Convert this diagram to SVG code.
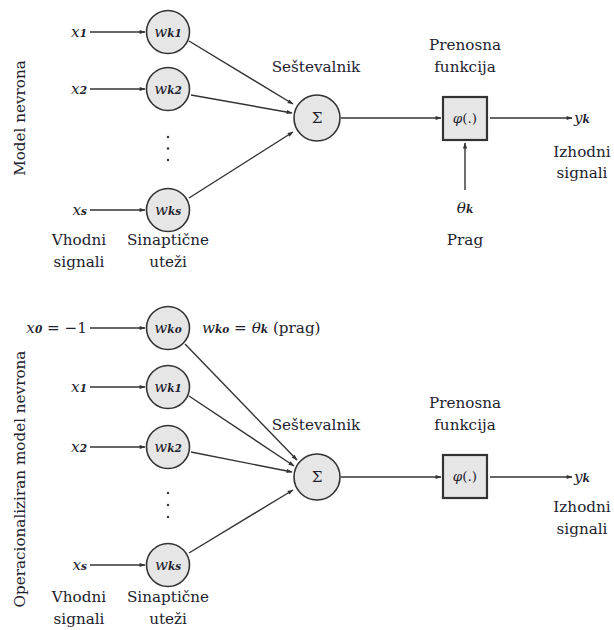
<svg xmlns="http://www.w3.org/2000/svg" width="614" height="630" viewBox="0 0 614 630">
<style>
text{font-family:"DejaVu Serif","Liberation Serif",serif;font-size:15.2px;fill:#22222e}
.m{font-style:italic}
.s{font-size:10.5px;font-weight:bold;font-style:italic}
.c{text-anchor:middle}
.e{text-anchor:end}
.node{fill:#e6e6e6;stroke:#333;stroke-width:1.6}
.box{fill:#e6e6e6;stroke:#333;stroke-width:2.2}
.ln{stroke:#333;stroke-width:1.4;fill:none;marker-end:url(#ah)}
.dot{fill:#333}
</style>
<defs>
<marker id="ah" viewBox="0 0 10 10" refX="9" refY="5" markerWidth="7" markerHeight="6" markerUnits="userSpaceOnUse" orient="auto">
<path d="M0,1.5 L10,5 L0,8.5 z" fill="#333"/>
</marker>
</defs>
<g id="connectors">
<line class="ln" x1="90" y1="32" x2="145" y2="32"/>
<line class="ln" x1="90" y1="89" x2="145" y2="89"/>
<line class="ln" x1="90" y1="210" x2="145" y2="210"/>
<line class="ln" x1="189" y1="41" x2="293" y2="104"/>
<line class="ln" x1="191" y1="95" x2="292" y2="113"/>
<line class="ln" x1="189" y1="198" x2="293" y2="132"/>
<line class="ln" x1="341" y1="118" x2="441" y2="118"/>
<line class="ln" x1="490" y1="118" x2="572" y2="118"/>
<line class="ln" x1="465" y1="190" x2="465" y2="143"/>
<line class="ln" x1="90" y1="328" x2="145" y2="328"/>
<line class="ln" x1="90" y1="387" x2="145" y2="387"/>
<line class="ln" x1="90" y1="447" x2="145" y2="447"/>
<line class="ln" x1="90" y1="565" x2="145" y2="565"/>
<line class="ln" x1="185" y1="344" x2="297" y2="460"/>
<line class="ln" x1="189" y1="396" x2="294" y2="466"/>
<line class="ln" x1="191" y1="452" x2="292" y2="472"/>
<line class="ln" x1="189" y1="553" x2="293" y2="490"/>
<line class="ln" x1="341" y1="477" x2="441" y2="477"/>
<line class="ln" x1="490" y1="477" x2="572" y2="477"/>
</g>
<g id="top-labels">
<text x="20" y="118" class="c" transform="rotate(-90 20 118)" dy="5">Model nevrona</text>
<text x="87" y="37" class="e"><tspan class="m">x</tspan><tspan class="s">1</tspan></text>
<text x="87" y="94" class="e"><tspan class="m">x</tspan><tspan class="s">2</tspan></text>
<text x="87" y="215" class="e"><tspan class="m">x</tspan><tspan class="s">s</tspan></text>
<circle class="dot" cx="168" cy="137" r="1.2"/>
<circle class="dot" cx="168" cy="148.5" r="1.2"/>
<circle class="dot" cx="168" cy="160" r="1.2"/>
<text x="79" y="245" class="c">Vhodni</text>
<text x="79" y="267" class="c">signali</text>
<text x="168" y="245" class="c">Sinaptične</text>
<text x="168" y="267" class="c">uteži</text>
<text x="316" y="72" class="c">Seštevalnik</text>
<text x="465" y="50" class="c">Prenosna</text>
<text x="465" y="72" class="c">funkcija</text>
<text x="574" y="123"><tspan class="m">y</tspan><tspan class="s">k</tspan></text>
<text x="582" y="157" class="c">Izhodni</text>
<text x="582" y="178" class="c">signali</text>
<text x="465" y="213" class="c"><tspan class="m">θ</tspan><tspan class="s">k</tspan></text>
<text x="465" y="245" class="c">Prag</text>
</g>
<g id="wk1"><circle class="node" cx="168" cy="32" r="21.5"/><text x="168" y="37" class="c"><tspan class="m">w</tspan><tspan class="s">k1</tspan></text></g>
<g id="wk2"><circle class="node" cx="168" cy="89" r="21.5"/><text x="168" y="94" class="c"><tspan class="m">w</tspan><tspan class="s">k2</tspan></text></g>
<g id="wks"><circle class="node" cx="168" cy="210" r="21.5"/><text x="168" y="215" class="c"><tspan class="m">w</tspan><tspan class="s">ks</tspan></text></g>
<g id="sum1"><circle class="node" cx="317" cy="118" r="23"/><text x="317" y="123" class="c">Σ</text></g>
<g id="phi1"><rect class="box" x="443" y="97" width="44" height="43"/><text x="465" y="123" class="c" style="font-size:13.5px"><tspan class="m">φ</tspan>(.)</text></g>
<g id="bottom-labels">
<text x="20" y="479" class="c" transform="rotate(-90 20 479)" dy="5">Operacionaliziran model nevrona</text>
<text x="87" y="333" class="e"><tspan class="m">x</tspan><tspan class="s">0</tspan><tspan> = −1</tspan></text>
<text x="87" y="392" class="e"><tspan class="m">x</tspan><tspan class="s">1</tspan></text>
<text x="87" y="452" class="e"><tspan class="m">x</tspan><tspan class="s">2</tspan></text>
<text x="87" y="570" class="e"><tspan class="m">x</tspan><tspan class="s">s</tspan></text>
<circle class="dot" cx="168" cy="493" r="1.2"/>
<circle class="dot" cx="168" cy="505" r="1.2"/>
<circle class="dot" cx="168" cy="517" r="1.2"/>
<text x="202" y="333"><tspan class="m">w</tspan><tspan class="s">ko</tspan><tspan> = </tspan><tspan class="m">θ</tspan><tspan class="s">k</tspan><tspan> (prag)</tspan></text>
<text x="79" y="602" class="c">Vhodni</text>
<text x="79" y="624" class="c">signali</text>
<text x="168" y="602" class="c">Sinaptične</text>
<text x="168" y="624" class="c">uteži</text>
<text x="316" y="430" class="c">Seštevalnik</text>
<text x="465" y="408" class="c">Prenosna</text>
<text x="465" y="430" class="c">funkcija</text>
<text x="574" y="482"><tspan class="m">y</tspan><tspan class="s">k</tspan></text>
<text x="582" y="512" class="c">Izhodni</text>
<text x="582" y="534" class="c">signali</text>
</g>
<g id="wk0"><circle class="node" cx="168" cy="328" r="21.5"/><text x="168" y="333" class="c"><tspan class="m">w</tspan><tspan class="s">ko</tspan></text></g>
<g id="wk1b"><circle class="node" cx="168" cy="387" r="21.5"/><text x="168" y="392" class="c"><tspan class="m">w</tspan><tspan class="s">k1</tspan></text></g>
<g id="wk2b"><circle class="node" cx="168" cy="447" r="21.5"/><text x="168" y="452" class="c"><tspan class="m">w</tspan><tspan class="s">k2</tspan></text></g>
<g id="wksb"><circle class="node" cx="168" cy="565" r="21.5"/><text x="168" y="570" class="c"><tspan class="m">w</tspan><tspan class="s">ks</tspan></text></g>
<g id="sum2"><circle class="node" cx="317" cy="477" r="23"/><text x="317" y="482" class="c">Σ</text></g>
<g id="phi2"><rect class="box" x="443" y="455" width="44" height="43"/><text x="465" y="481" class="c" style="font-size:13.5px"><tspan class="m">φ</tspan>(.)</text></g>
</svg>
